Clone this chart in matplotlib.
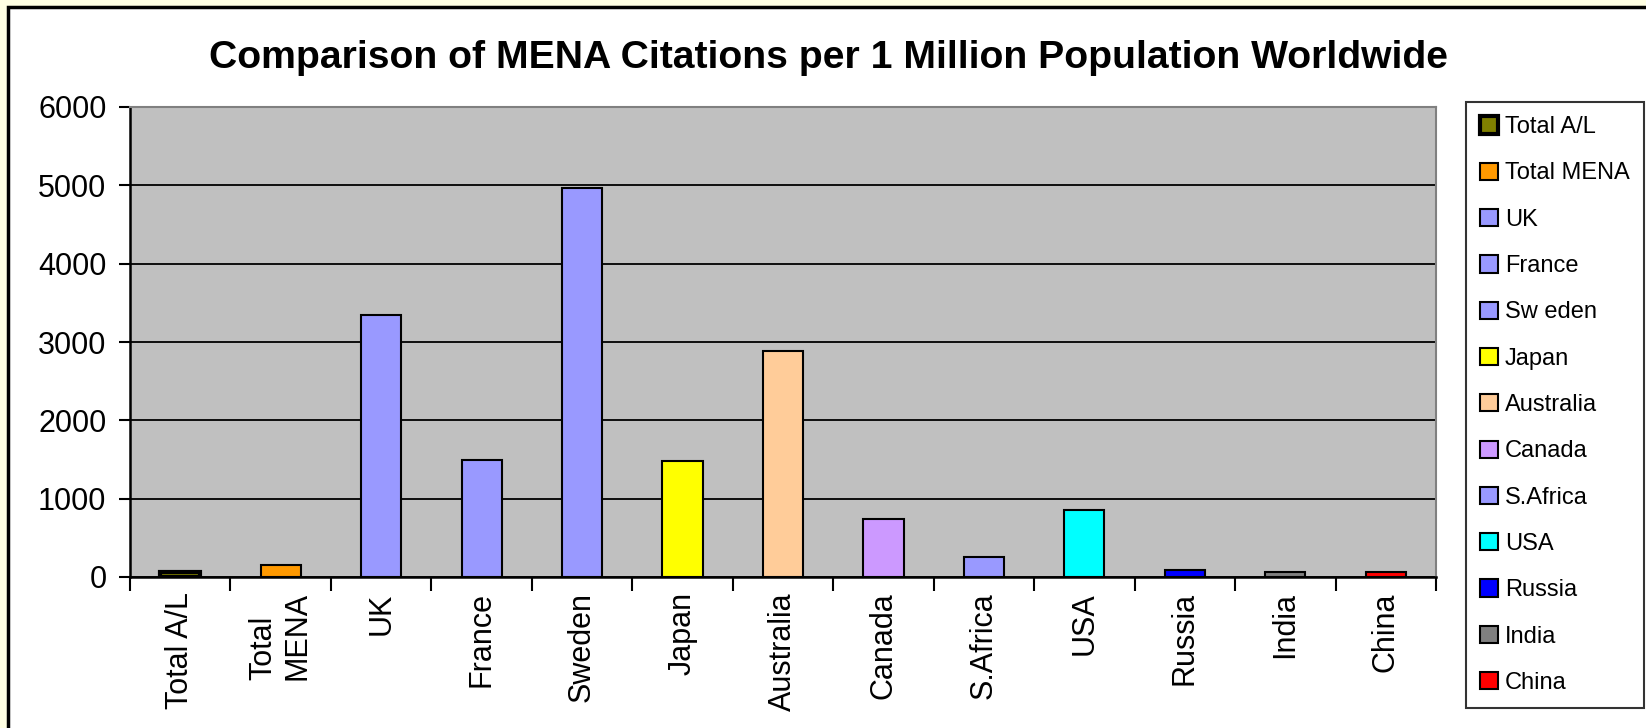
import matplotlib.pyplot as plt
from matplotlib.patches import Rectangle

plt.rcParams['font.family'] = ['Liberation Sans', 'DejaVu Sans']

# data
categories = ['Total A/L', 'Total\nMENA', 'UK', 'France', 'Sweden', 'Japan', 'Australia',
              'Canada', 'S.Africa', 'USA', 'Russia', 'India', 'China']
legend_names = ['Total A/L', 'Total MENA', 'UK', 'France', 'Sw eden', 'Japan', 'Australia',
                'Canada', 'S.Africa', 'USA', 'Russia', 'India', 'China']
citations = [70, 150, 3350, 1500, 4960, 1480, 2890, 740, 250, 860, 90, 60, 60]
colors = ['#808000', '#FF9900', '#9999FF', '#9999FF', '#9999FF', '#FFFF00', '#FFCC99',
          '#CC99FF', '#9999FF', '#00FFFF', '#0000FF', '#808080', '#FF0000']

fig = plt.figure(figsize=(16.46, 7.28), dpi=100)
fig.patch.set_facecolor('#FFFFE3')
# white chart area with black border (runs off the right and bottom)
fig.patches.append(Rectangle((8 / 1646, -0.05), 1.1, 1 - 7 / 728 + 0.05, transform=fig.transFigure,
                             facecolor='white', edgecolor='black', linewidth=2.5, zorder=-1))

ax = fig.add_axes([130 / 1646, 1 - 577 / 728, 1306 / 1646, 470 / 728])
ax.set_zorder(1)
ax.set_facecolor('#C0C0C0')

x = list(range(len(categories)))
for i in x:
    lw = 3 if i == 0 else 1.5
    ax.bar(i, citations[i], width=0.4, color=colors[i], edgecolor='black', linewidth=lw,
           label=legend_names[i], zorder=3)

ax.set_xlim(-0.5, len(categories) - 0.5)
ax.set_ylim(0, 6000)
ax.set_yticks(range(0, 6001, 1000))
ax.yaxis.grid(True, color='black', linewidth=1.3, zorder=1)
ax.tick_params(axis='y', labelsize=22, length=8, width=1.5, direction='out', pad=9)

ax.set_xticks(x)
ax.set_xticklabels(categories, rotation=90, fontsize=22, ha='center', va='top',
                   multialignment='left')
ax.tick_params(axis='x', length=0, pad=11)
ax.set_xticks([i - 0.5 for i in range(len(categories) + 1)], minor=True)
ax.tick_params(axis='x', which='minor', length=10, width=1.5, direction='out')

ax.spines['left'].set_linewidth(1.8)
ax.spines['bottom'].set_linewidth(1.8)
ax.spines['top'].set_color('#808080')
ax.spines['right'].set_color('#808080')
ax.spines['top'].set_linewidth(1.5)
ax.spines['right'].set_linewidth(1.5)

fig.text(829 / 1646, 1 - 58 / 728, 'Comparison of MENA Citations per 1 Million Population Worldwide',
         ha='center', va='center', fontsize=28.2, fontweight='bold')

leg = fig.legend(loc='upper left', bbox_to_anchor=(1466 / 1646, 1 - 102 / 728), fontsize=17,
                 frameon=True, fancybox=False, edgecolor='black', handlelength=0.75,
                 handleheight=0.75, handletextpad=0.3, labelspacing=1.03, borderpad=0.6,
                 borderaxespad=0)
leg.get_frame().set_linewidth(1.5)

fig.savefig('out.png', dpi=100, facecolor=fig.get_facecolor())
